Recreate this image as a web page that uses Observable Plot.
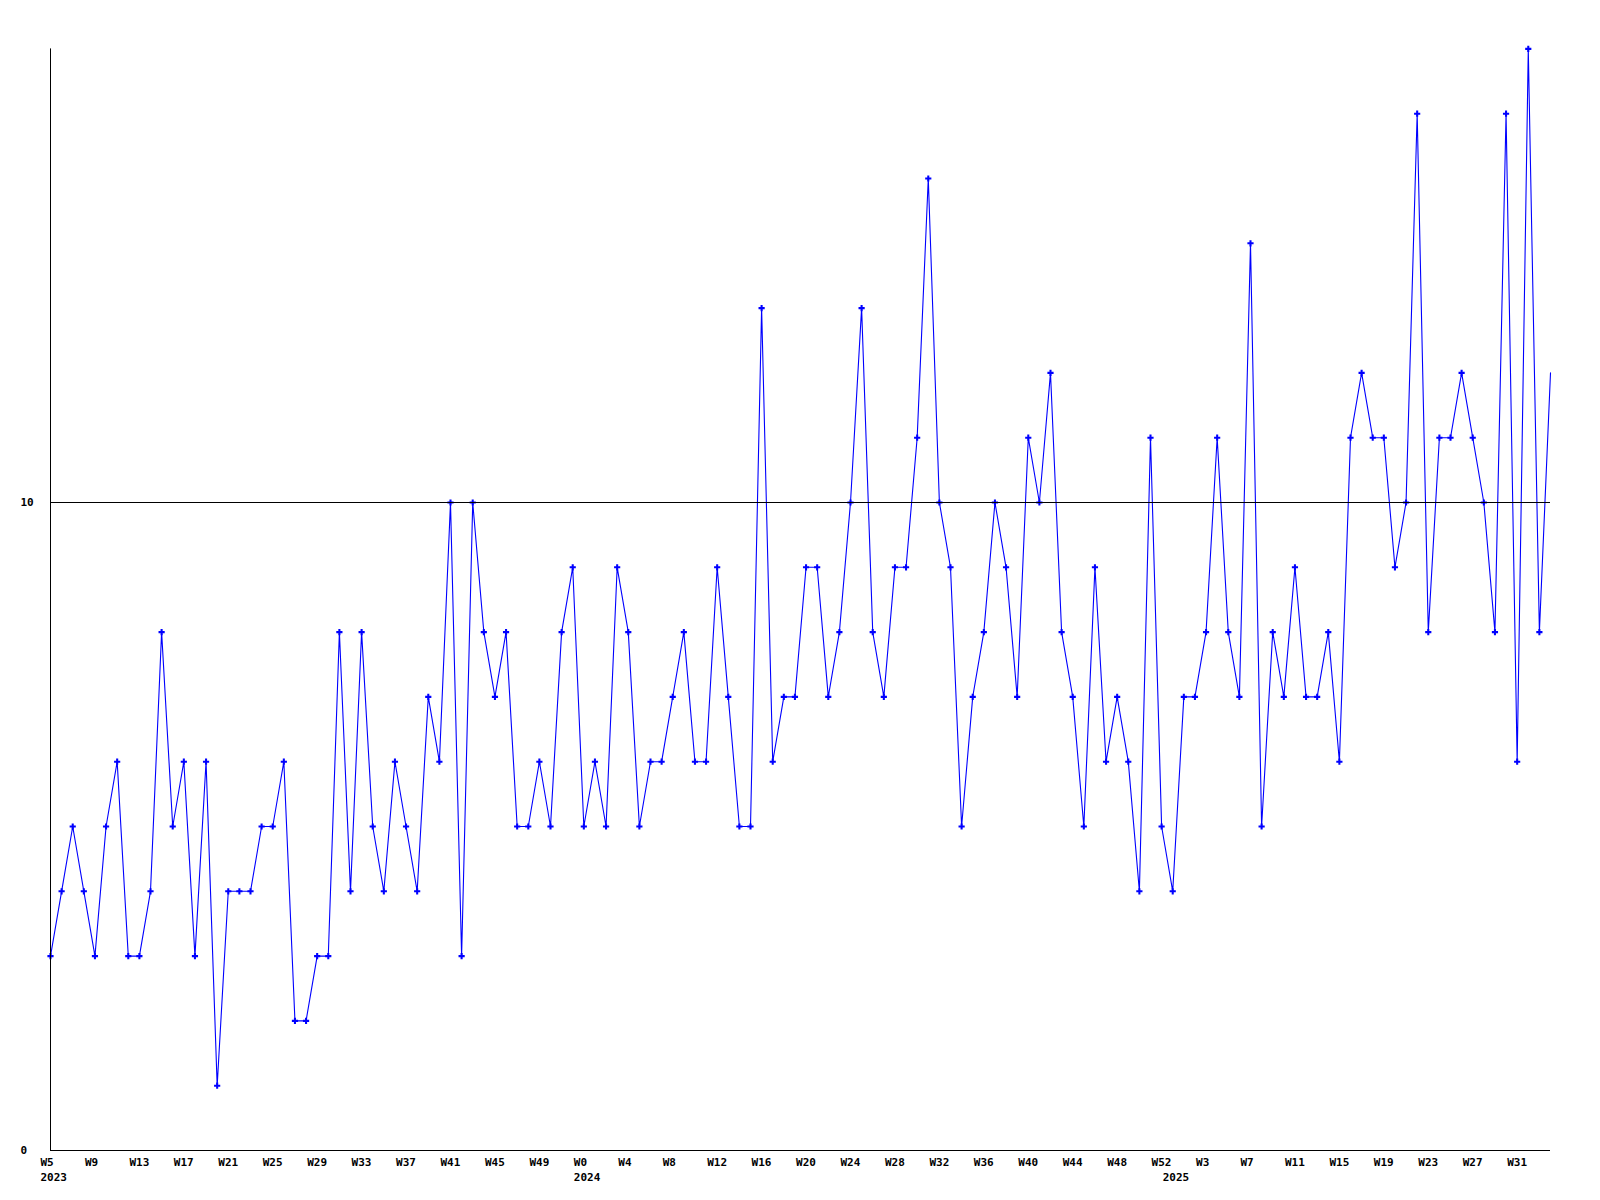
<!DOCTYPE html>
<html>
<head>
<meta charset="utf-8">
<script src="https://cdn.jsdelivr.net/npm/d3@7"></script>
<script src="https://cdn.jsdelivr.net/npm/@observablehq/plot@0.6"></script>
<style>
  html, body { margin: 0; padding: 0; background: #ffffff; }
  #chart { width: 1600px; height: 1200px; }
</style>
</head>
<body>
<div id="chart"></div>
<script>
// Weekly values, W5 2023 .. W35 2025 (one per week)
const values = [
  3,4,5,4,3,5,6,3,3,4,
  8,5,6,3,6,1,4,4,4,5,
  5,6,2,2,3,3,8,4,8,5,
  4,6,5,4,7,6,10,3,10,8,
  7,8,5,5,6,5,8,9,5,6,
  5,9,8,5,6,6,7,8,6,6,
  9,7,5,5,13,6,7,7,9,9,
  7,8,10,13,8,7,9,9,11,15,
  10,9,5,7,8,10,9,7,11,10,
  12,8,7,5,9,6,7,6,4,11,
  5,4,7,7,8,11,8,7,14,5,
  8,7,9,7,7,8,6,11,12,11,
  11,9,10,16,8,11,11,12,11,10,
  8,16,6,17,8,12
];

// Week tick labels, one every 4th week
const weekLabels = [
  "W5","W9","W13","W17","W21","W25","W29","W33","W37","W41","W45","W49",
  "W0","W4","W8","W12","W16","W20","W24","W28","W32","W36","W40","W44","W48","W52",
  "W3","W7","W11","W15","W19","W23","W27","W31"
];
const weekTickStep = 4;

// Year labels and the week index where each year starts
const years = ["2023", "2024", "2025"];
const yearStartWeek = [0, 48, 101];

// Y axis labelled values
const yLabels = [0, 10];

const data = values.map((v, i) => ({i, v}));
const ticks = weekLabels.map((label, k) => ({i: k * weekTickStep, label}));
const yearData = years.map((label, k) => ({i: yearStartWeek[k], label}));
const lastIndex = values.length - 1;

const font = "'DejaVu Sans Mono', 'Liberation Mono', monospace";

const chart = Plot.plot({
  width: 1600,
  height: 1200,
  marginLeft: 50,
  marginRight: 50,
  marginTop: 48.4,
  marginBottom: 50,
  style: {background: "#ffffff", fontFamily: font, fontSize: "11px", fontWeight: "bold", color: "#000000"},
  x: {type: "linear", domain: [0, lastIndex], axis: null},
  y: {type: "linear", domain: [0, 17], axis: null},
  marks: [
    Plot.line(data, {x: "i", y: "v", stroke: "#0000ff", strokeWidth: 1.1}),
    Plot.dot(data, {
      x: "i", y: "v", symbol: "cross", r: 2.6, fill: "#0000ff", stroke: null,
      filter: d => d.i < lastIndex
    }),
    Plot.ruleY([10], {stroke: "#000000", strokeWidth: 1}),
    Plot.ruleY([0], {stroke: "#000000", strokeWidth: 1}),
    Plot.ruleX([0], {y1: 0, y2: 17, stroke: "#000000", strokeWidth: 1}),
    Plot.text(ticks, {
      x: "i", y: () => 0, text: "label", textAnchor: "start",
      dx: -10, dy: 12, fill: "#000000", fontSize: 11, fontWeight: "bold"
    }),
    Plot.text(yearData, {
      x: "i", y: () => 0, text: "label", textAnchor: "start",
      dx: -10, dy: 27, fill: "#000000", fontSize: 11, fontWeight: "bold"
    }),
    Plot.text(yLabels, {
      y: d => d, text: d => String(d), frameAnchor: "left", textAnchor: "start",
      dx: -30, dy: 0, fill: "#000000", fontSize: 11, fontWeight: "bold"
    })
  ]
});

document.getElementById("chart").appendChild(chart);
</script>
</body>
</html>
